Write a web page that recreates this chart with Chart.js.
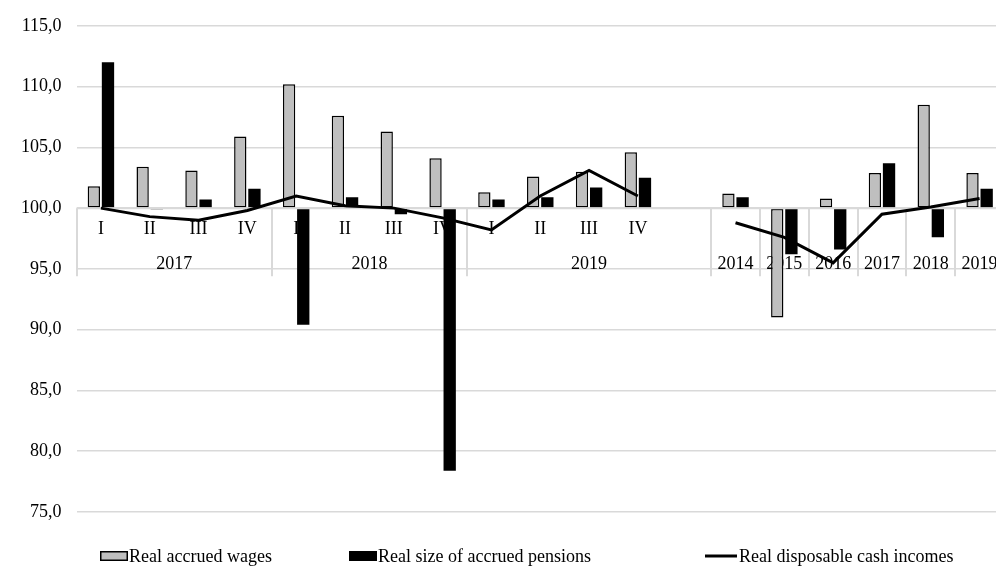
<!DOCTYPE html>
<html><head><meta charset="utf-8">
<script src="https://cdn.jsdelivr.net/npm/chart.js@4/dist/chart.umd.min.js"></script>
<style>
html,body{margin:0;padding:0;overflow:hidden;background:#fff;width:996px;height:567px}
#wrap{position:absolute;left:0;top:0;width:1012px;height:567px}
</style>
</head><body><div id="wrap"><canvas id="c" width="1012" height="567"></canvas></div>
<script>
// ---- data ----
const quarterLabels = ['I', 'II', 'III', 'IV'];
const quarterYears = ['2017', '2018', '2019'];
const annualYears = ['2014', '2015', '2016', '2017', '2018', '2019'];
const seriesNames = ['Real accrued wages', 'Real size of accrued pensions', 'Real disposable cash incomes'];
// 12 quarters, one blank slot, 6 years
const wages    = [101.8, 103.4, 103.1, 105.9, 110.2, 107.6, 106.3, 104.1, 101.3, 102.6, 103.0, 104.6, null, 101.2, 91.0, 100.8, 102.9, 108.5, 102.9];
const pensions = [112.0,  99.9, 100.7, 101.6,  90.4, 100.9,  99.5,  78.4, 100.7, 100.9, 101.7, 102.5, null, 100.9, 96.2, 96.6, 103.7, 97.6, 101.6];
const incomes  = [100.0,  99.3,  99.0,  99.8, 101.0, 100.2, 100.0,  99.2,  98.2, 101.0, 103.1, 101.0, null,  98.8, 97.6, 95.5,  99.5, 100.1, 100.8];
const yMin = 75, yMax = 115, yStep = 5, baseValue = 100;

// ---- build labels and groups ----
const tickLabels = [];
const groups = [];
quarterYears.forEach((yr, gi) => {
  const from = tickLabels.length;
  quarterLabels.forEach(q => tickLabels.push(q));
  if (gi === quarterYears.length - 1) tickLabels.push('');
  groups.push({label: yr, from: from, to: tickLabels.length - 1});
});
const annualStart = tickLabels.length;
annualYears.forEach(y => tickLabels.push(['', y]));
const boundaries = groups.map(g => g.from).concat(annualYears.map((_, i) => annualStart + i), [tickLabels.length]);

const FONT = '"Liberation Serif", "Times New Roman", serif';
const TICK_PAD = 3, LINE_H = 35.5, FS = 18;
Chart.defaults.font.family = FONT;
Chart.defaults.color = '#000';

const overlay = {
  id: 'overlay',
  beforeDatasetsDraw(chart) {
    const xs = chart.scales.x, ys = chart.scales.y, ctx = chart.ctx;
    const y0 = ys.getPixelForValue(baseValue);
    const cw = xs.getPixelForValue(1) - xs.getPixelForValue(0);
    ctx.save();
    ctx.strokeStyle = '#d9d9d9'; ctx.lineWidth = 2;
    boundaries.forEach(i => {
      const px = Math.round(xs.getPixelForValue(i) - cw / 2);
      ctx.beginPath(); ctx.moveTo(px, y0); ctx.lineTo(px, y0 + 68); ctx.stroke();
    });
    ctx.fillStyle = '#000';
    ctx.font = FS + 'px ' + FONT;
    ctx.textAlign = 'center'; ctx.textBaseline = 'middle';
    groups.forEach(g => {
      const cx = (xs.getPixelForValue(g.from) + xs.getPixelForValue(g.to)) / 2;
      ctx.fillText(g.label, cx, y0 + TICK_PAD + LINE_H * 1.5);
    });
    ctx.restore();
  },
  beforeDatasetDraw(chart, args) {
    if (args.index !== 2) return;
    const ys = chart.scales.y, ctx = chart.ctx;
    const y0 = ys.getPixelForValue(baseValue);
    ctx.save();
    ctx.strokeStyle = '#d9d9d9'; ctx.lineWidth = 2;
    ctx.beginPath(); ctx.moveTo(chart.chartArea.left, y0); ctx.lineTo(chart.chartArea.right, y0); ctx.stroke();
    ctx.restore();
  },
  afterDraw(chart) {
    const ctx = chart.ctx;
    const ly = 556;
    const items = [
      {x: 100, kind: 'box', fill: '#bfbfbf', stroke: '#000'},
      {x: 349, kind: 'box', fill: '#000', stroke: '#000'},
      {x: 705, kind: 'line'}
    ];
    ctx.save();
    ctx.font = FS + 'px ' + FONT;
    ctx.textBaseline = 'middle'; ctx.textAlign = 'left'; ctx.fillStyle = '#000';
    items.forEach((it, i) => {
      if (it.kind === 'box') {
        ctx.fillStyle = it.fill; ctx.fillRect(it.x, ly - 5, 28, 10);
        ctx.strokeStyle = it.stroke; ctx.lineWidth = 1.5; ctx.strokeRect(it.x + 0.75, ly - 4.25, 26.5, 8.5);
      } else {
        ctx.strokeStyle = '#000'; ctx.lineWidth = 3;
        ctx.beginPath(); ctx.moveTo(it.x, ly); ctx.lineTo(it.x + 32, ly); ctx.stroke();
      }
      ctx.fillStyle = '#000';
      ctx.fillText(seriesNames[i], it.x + (it.kind === 'box' ? 29 : 34), ly + 1);
    });
    ctx.restore();
  }
};

new Chart(document.getElementById('c'), {
  type: 'bar',
  data: {
    labels: tickLabels,
    datasets: [
      {label: seriesNames[0], data: wages, base: baseValue, backgroundColor: '#bfbfbf', borderColor: '#000', borderWidth: 1.5, borderSkipped: false, order: 1},
      {label: seriesNames[1], data: pensions, base: baseValue, backgroundColor: '#000', borderWidth: 0, order: 1},
      {label: seriesNames[2], data: incomes, type: 'line', borderColor: '#000', backgroundColor: '#000', borderWidth: 3, pointRadius: 0, tension: 0, spanGaps: false, order: 0}
    ]
  },
  options: {
    responsive: false,
    animation: false,
    devicePixelRatio: 1,
    layout: {padding: {left: 6, right: 8, top: 25, bottom: 55}},
    datasets: {bar: {categoryPercentage: 0.58, barPercentage: 0.87}},
    plugins: {legend: {display: false}, tooltip: {enabled: false}},
    scales: {
      x: {
        type: 'category',
        position: {y: baseValue},
        offset: true,
        grid: {display: true, drawOnChartArea: false, drawTicks: false, lineWidth: 0},
        border: {display: false},
        ticks: {autoSkip: false, maxRotation: 0, minRotation: 0, padding: TICK_PAD, color: '#000',
                font: {family: FONT, size: FS, lineHeight: LINE_H / FS}}
      },
      y: {
        min: yMin, max: yMax,
        grid: {color: '#d9d9d9', lineWidth: 1.5, drawTicks: false},
        border: {display: false},
        ticks: {stepSize: yStep, padding: 15, color: '#000', font: {family: FONT, size: FS},
                callback: v => v.toFixed(1).replace('.', ',')}
      }
    }
  },
  plugins: [overlay]
});
</script></body></html>
